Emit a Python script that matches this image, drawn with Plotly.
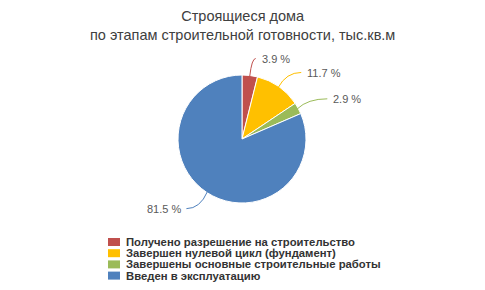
import math
import plotly.graph_objects as go

categories = [
    "Получено разрешение на строительство",
    "Завершен нулевой цикл (фундамент)",
    "Завершены основные строительные работы",
    "Введен в эксплуатацию",
]
values = [3.9, 11.7, 2.9, 81.5]
colors = ["#C0504D", "#FFC000", "#9BBB59", "#4F81BD"]
title_text = "Строящиеся дома<br>по этапам строительной готовности, тыс.кв.м"
# leader-line end offsets (pixels) relative to the slice edge point
leader_offsets = [(6, -18), (23, -15), (30, -10), (-21, 17)]

W, H = 485, 290
OFF = 8  # page body margin
cx, cy, r = 242, 139, 64
FONT = "Liberation Sans, Arial"


def X(p):
    return (p - OFF) / W


def Y(p):
    return 1 - (p - OFF) / H


fig = go.Figure(go.Pie(
    labels=categories,
    values=values,
    sort=False,
    direction="clockwise",
    rotation=0,
    marker=dict(colors=colors, line=dict(color="white", width=1)),
    textinfo="none",
    hoverinfo="label+percent",
    showlegend=False,
    domain=dict(x=[X(cx - r), X(cx + r)], y=[Y(cy + r), Y(cy - r)]),
))

total = sum(values)
cum = 0
annotations = []
shapes = []
for v, c, (ox, oy) in zip(values, colors, leader_offsets):
    mid = (cum + v / 2) / total * 2 * math.pi
    cum += v
    px = cx + (r - 1) * math.sin(mid)
    py = cy - (r - 1) * math.cos(mid)
    ex, ey = px + ox, py + oy
    qx, qy = px + 0.35 * ox, ey
    shapes.append(dict(
        type="path", xref="paper", yref="paper",
        path=f"M {X(px)} {Y(py)} Q {X(qx)} {Y(qy)} {X(ex)} {Y(ey)}",
        line=dict(color=c, width=1),
    ))
    right = ox >= 0
    annotations.append(dict(
        x=X(ex + (4 if right else -3)), y=Y(ey + 0.5), xref="paper", yref="paper",
        xanchor="left" if right else "right", yanchor="middle",
        text=f"{v:.1f} %", showarrow=False,
        font=dict(family=FONT, size=11, color="#595959"),
    ))

# legend (custom, compact row spacing as in the reference)
leg_x0, leg_y0, leg_dy = 108, 242, 11.2
for i, (name, c) in enumerate(zip(categories, colors)):
    yc = leg_y0 + i * leg_dy
    shapes.append(dict(
        type="rect", xref="paper", yref="paper",
        x0=X(leg_x0), x1=X(leg_x0 + 12),
        y0=Y(yc + 4), y1=Y(yc - 4),
        fillcolor=c, line=dict(width=0),
    ))
    annotations.append(dict(
        x=X(leg_x0 + 16), y=Y(yc), xref="paper", yref="paper",
        xanchor="left", yanchor="middle", showarrow=False,
        text=f"<b>{name}</b>",
        font=dict(family=FONT, size=11.3, color="#333333"),
    ))

# chart title
annotations.append(dict(
    x=X(242), y=Y(6), xref="paper", yref="paper",
    xanchor="center", yanchor="top", showarrow=False,
    text=title_text, align="center",
    font=dict(family=FONT, size=14.5, color="#404040"),
))

fig.update_layout(
    width=W, height=H,
    margin=dict(l=0, r=0, t=0, b=0),
    paper_bgcolor="white", plot_bgcolor="white",
    annotations=annotations,
    shapes=shapes,
    showlegend=False,
)

fig.write_html("out.html")
